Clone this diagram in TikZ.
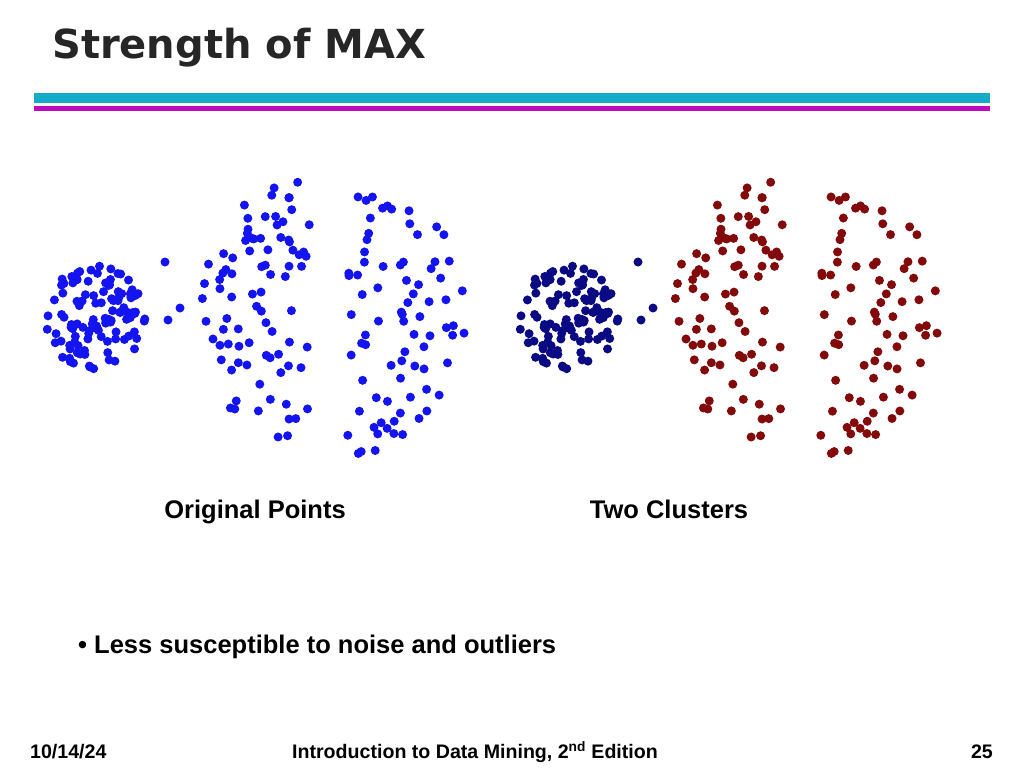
\documentclass[tikz,border=0pt]{standalone}
\usepackage{fontspec}
\setmainfont{Liberation Sans}
\newfontfamily\titlefont{DejaVu Sans}
\usetikzlibrary{positioning}
\definecolor{dotblue}{RGB}{20,20,240}
\definecolor{dotnavy}{RGB}{10,10,130}
\definecolor{dotred}{RGB}{130,10,10}
\definecolor{barcyan}{RGB}{20,170,200}
\definecolor{barmag}{RGB}{190,10,190}
\tikzset{
  pt/.style={fill=#1, draw=none},
  lbl/.style={font=\bfseries\fontsize{25.5}{29}\selectfont, inner sep=0pt},
  foot/.style={font=\bfseries\fontsize{19.6}{22}\selectfont, inner sep=0pt}
}
% one point in both scatters: \twodot{x}{y}{colour right}
\newcommand{\twodot}[3]{%
  \fill[pt=dotblue] ({#1},{#2}) circle (4.5);
  \fill[pt=#3] ({#1+473},{#2}) circle (4.5);
}
\begin{document}
\begin{tikzpicture}[x=1pt,y=-1pt]
\useasboundingbox (0,0) rectangle (1024,768);
\node[anchor=west, inner sep=0pt, font=\titlefont\bfseries\fontsize{40}{44}\selectfont, text=black!85] (title) at (52,48) {Strength of MAX};
\fill[barcyan] (34,93) rectangle (990,103);
\fill[barmag] (34,106) rectangle (990,111);
% points
\pgfmathsetseed{4711}
\foreach \i in {1,...,110}{
  \pgfmathsetmacro{\ang}{rnd*360}
  \pgfmathsetmacro{\rad}{52*sqrt(rnd)}
  \twodot{95+\rad*cos(\ang)}{318+\rad*sin(\ang)}{dotnavy}
}
\foreach \i in {1,...,85}{
  \pgfmathsetmacro{\ang}{90+rnd*180}
  \pgfmathsetmacro{\rad}{135*sqrt(rnd)}
  \twodot{310+0.85*\rad*cos(\ang)}{315+\rad*sin(\ang)}{dotred}
}
\foreach \i in {1,...,80}{
  \pgfmathsetmacro{\ang}{-90+rnd*180}
  \pgfmathsetmacro{\rad}{138*sqrt(rnd)}
  \twodot{345+0.9*\rad*cos(\ang)}{318+\rad*sin(\ang)}{dotred}
}
\twodot{165}{262}{dotnavy}
\twodot{180}{308}{dotnavy}
\twodot{168}{320}{dotnavy}
% labels
\node[lbl, anchor=base] (orig) at (255,518) {Original Points};
\node[lbl, anchor=base] (two) at (669,518) {Two Clusters};
\node[lbl, anchor=west] (bullet) at (78,647) {\textbullet\ Less susceptible to noise and outliers};
\node[foot, anchor=west] (date) at (30,752) {10/14/24};
\node[foot] (book) at (475,752) {Introduction to Data Mining, 2\textsuperscript{nd} Edition};
\node[foot, anchor=east] (page) at (993,752) {25};
\end{tikzpicture}
\end{document}
